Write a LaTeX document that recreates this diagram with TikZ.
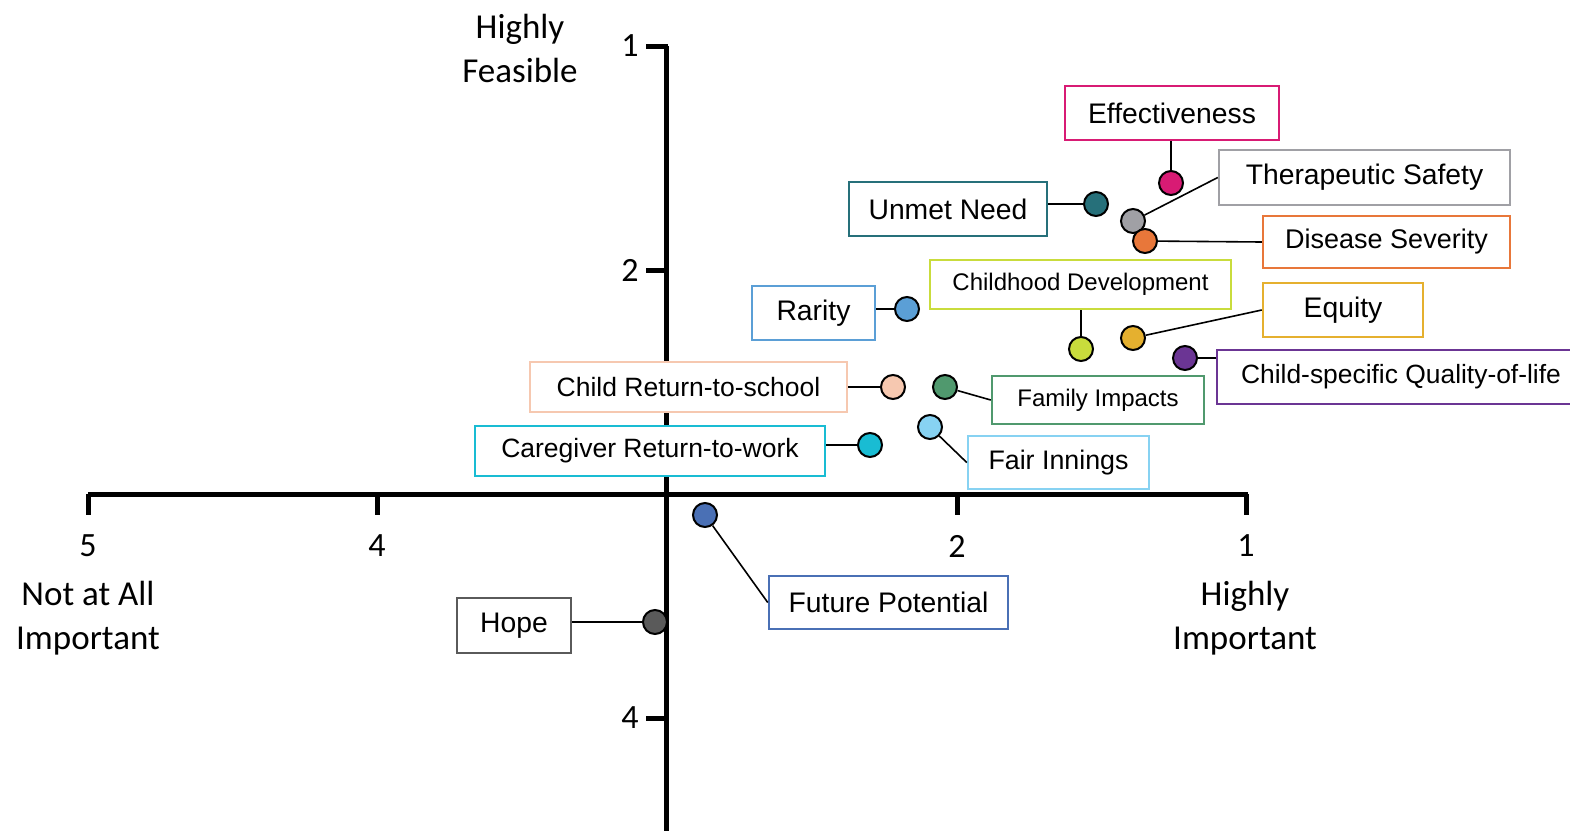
\documentclass[tikz,border=0pt]{standalone}
\usepackage{fontspec}
\setmainfont{Liberation Sans}
\newfontfamily\axisfont{Carlito}
\begin{document}
\begin{tikzpicture}[x=1pt,y=-1pt,
  axis/.style={line width=5pt},
  axislabel/.style={font=\axisfont\fontsize{35}{44}\selectfont, align=center, inner sep=0pt},
  ticklabel/.style={font=\axisfont\fontsize{34}{40}\selectfont, inner sep=0pt},
  box/.style={draw=#1, line width=2.5pt, fill=white, rectangle, inner sep=0pt,
    font=\fontsize{28.3}{33}\selectfont},
  dot/.style={draw=black, line width=2pt, fill=#1, circle, minimum size=24pt, inner sep=0pt},
  link/.style={line width=1.6pt}]

\definecolor{cEff}{HTML}{D81B74}
\definecolor{cTher}{HTML}{A0A0A5}
\definecolor{cUnmet}{HTML}{26707A}
\definecolor{cDis}{HTML}{E8773A}
\definecolor{cChild}{HTML}{C9DC3C}
\definecolor{cRar}{HTML}{5B9FD6}
\definecolor{cEq}{HTML}{E5B02F}
\definecolor{cQol}{HTML}{6B3594}
\definecolor{cRet}{HTML}{F6C8B0}
\definecolor{cFam}{HTML}{50996E}
\definecolor{cFair}{HTML}{87D2F2}
\definecolor{cCare}{HTML}{19BCD3}
\definecolor{cFut}{HTML}{4A70B5}
\definecolor{cHope}{HTML}{5A5A5A}

\useasboundingbox (0,0) rectangle (1570,830);

% axes
\draw[axis] (666,46) -- (666,832);
\draw[axis] (88,494) -- (1248,494);
\draw[axis] (646,46) -- (668,46);
\draw[axis] (646,270) -- (666,270);
\draw[axis] (646,718) -- (666,718);
\foreach \x in {88,377,957,1246} \draw[axis] (\x,494) -- (\x,515);

% tick labels
\node[ticklabel] (ty1) at (630,46) {1};
\node[ticklabel] (ty2) at (630,270) {2};
\node[ticklabel] (ty4) at (630,718) {4};
\node[ticklabel] (tx5) at (88,546) {5};
\node[ticklabel] (tx4) at (377,546) {4};
\node[ticklabel] (tx2) at (957,546) {2};
\node[ticklabel] (tx1) at (1246,546) {1};

% axis titles
\node[axislabel] (feas) at (520,48) {Highly\\Feasible};
\node[axislabel] (notimp) at (88,618) {Not at All\\Important};
\node[axislabel] (highimp) at (1245,618) {Highly\\Important};

% labelled boxes
\node[box=cEff, minimum width=214pt, minimum height=54pt] (eff) at (1172,113) {Effectiveness};
\node[box=cTher, minimum width=291pt, minimum height=55pt] (ther) at (1364.5,177.5) {Therapeutic Safety};
\node[box=cUnmet, minimum width=198pt, minimum height=54pt] (unmet) at (948,209) {Unmet Need};
\node[box=cDis, minimum width=247pt, minimum height=52pt, font=\fontsize{27}{32}\selectfont] (dis) at (1386.5,242) {Disease Severity};
\node[box=cChild, minimum width=301pt, minimum height=49pt, font=\fontsize{24}{28}\selectfont] (child) at (1080.5,284.5) {Childhood Development};
\node[box=cRar, minimum width=123pt, minimum height=54pt] (rar) at (813.5,313) {Rarity};
\node[box=cEq, minimum width=160pt, minimum height=54pt] (eq) at (1343,310) {Equity};
\node[box=cQol, minimum width=368pt, minimum height=54pt, font=\fontsize{26.4}{31}\selectfont] (qol) at (1401,377) {Child-specific Quality-of-life};
\node[box=cRet, minimum width=317pt, minimum height=50pt, font=\fontsize{26.5}{31}\selectfont] (ret) at (688.5,387) {Child Return-to-school};
\node[box=cFam, minimum width=212pt, minimum height=48pt, font=\fontsize{24}{28}\selectfont] (fam) at (1098,400) {Family Impacts};
\node[box=cFair, minimum width=181pt, minimum height=53pt, font=\fontsize{26.8}{31}\selectfont] (fair) at (1058.5,462.5) {Fair Innings};
\node[box=cCare, minimum width=350pt, minimum height=50pt, font=\fontsize{26.5}{31}\selectfont] (care) at (650,451) {Caregiver Return-to-work};
\node[box=cFut, minimum width=239pt, minimum height=53pt] (fut) at (888.5,602.5) {Future Potential};
\node[box=cHope, minimum width=114pt, minimum height=55pt] (hope) at (514,625.5) {Hope};

% data points
\node[dot=cEff] (dEff) at (1171,183) {};
\node[dot=cTher] (dTher) at (1133,221) {};
\node[dot=cUnmet] (dUnmet) at (1096,204) {};
\node[dot=cDis] (dDis) at (1145,241) {};
\node[dot=cChild] (dChild) at (1081,349) {};
\node[dot=cRar] (dRar) at (907,309) {};
\node[dot=cEq] (dEq) at (1133,338) {};
\node[dot=cQol] (dQol) at (1185,358) {};
\node[dot=cRet] (dRet) at (893,387) {};
\node[dot=cFam] (dFam) at (945,387) {};
\node[dot=cFair] (dFair) at (930,427) {};
\node[dot=cCare] (dCare) at (870,445) {};
\node[dot=cFut] (dFut) at (705,515) {};
\node[dot=cHope] (dHope) at (655,622) {};

% leader lines
\draw[link] (eff.south -| dEff) -- (dEff);
\draw[link] (dTher) -- (ther.west);
\draw[link] (dUnmet.west -| unmet.east) -- (dUnmet);
\draw[link] (dDis) -- (dis.west);
\draw[link] (child.south -| dChild) -- (dChild);
\draw[link] (dRar.west -| rar.east) -- (dRar);
\draw[link] (dEq) -- (eq.west);
\draw[link] (dQol.east) -- (dQol.east -| qol.west);
\draw[link] (ret.east |- dRet) -- (dRet);
\draw[link] (dFam) -- (fam.west);
\draw[link] (dFair) -- (fair.west);
\draw[link] (care.east |- dCare) -- (dCare);
\draw[link] (dFut) -- (fut.west);
\draw[link] (dHope.west -| hope.east) -- (dHope);
\end{tikzpicture}
\end{document}
